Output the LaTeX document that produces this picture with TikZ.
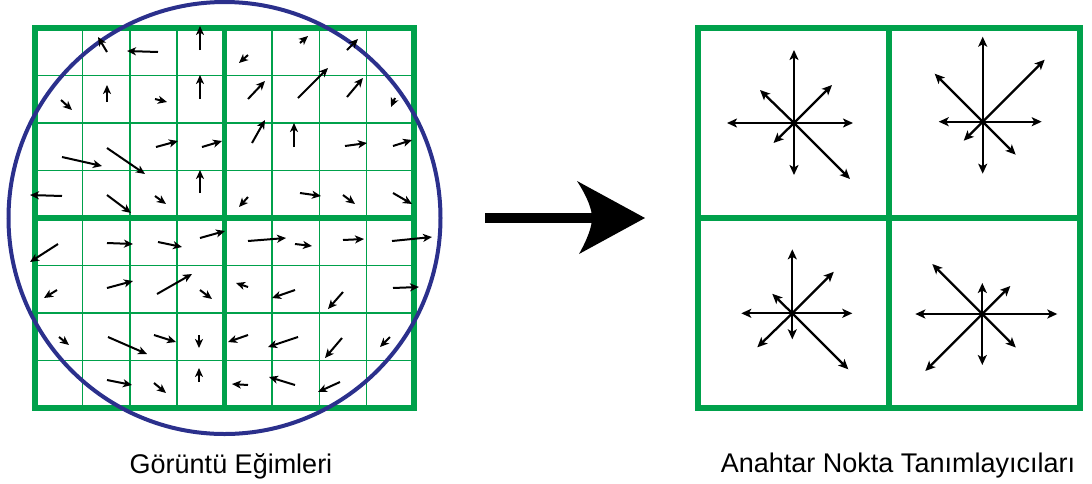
\documentclass[tikz,border=0pt]{standalone}
\usepackage{fontspec}
\setmainfont{Liberation Sans}
\usetikzlibrary{arrows.meta}
\definecolor{gridgreen}{RGB}{0,161,75}
\definecolor{circblue}{RGB}{43,48,140}
\begin{document}
\begin{tikzpicture}[x=1pt,y=-1pt,
  thickgrid/.style={draw=gridgreen,line width=5.5pt},
  thingrid/.style={draw=gridgreen,line width=1.5pt},
  grad/.style={line width=2pt,-{Stealth[length=9pt,width=8pt,inset=2.5pt]}},
  desc/.style={line width=2.3pt,-{Stealth[length=10pt,width=9pt,inset=2.5pt]}},
  lbl/.style={font=\fontsize{27}{32}\selectfont,anchor=base,inner sep=0pt}]
\useasboundingbox (0,0) rectangle (1092,483);
% ---------- left grid ----------
\foreach \k in {1,2,3,5,6,7}{
  \draw[thingrid] ({35+\k*47.375},28) -- ({35+\k*47.375},408);
  \draw[thingrid] (35,{28+\k*47.5}) -- (414,{28+\k*47.5});
}
\draw[thickgrid] (35,28) rectangle (414,408);
\draw[thickgrid] (224.5,28) -- (224.5,408);
\draw[thickgrid] (35,218) -- (414,218);
\draw[circblue,line width=4pt] (224.5,218) circle[radius=216pt];
% gradient arrows
\foreach \sx/\sy/\ex/\ey in {
 107/52/98/37, 158/52/127/51, 200/50/200/26, 61/100/72/110, 107/102/107/85,
 155/99/167/102, 200/99/200/75, 62/157/102/166, 107/148/145/174, 156/147/178/141,
 202/147/222/141, 200/193/200/170, 62/196/30/195, 107/195/131/213, 155/196/166/204,
 248/55/239/63, 300/43/308/36, 347/50/358/39, 248/99/265/81, 298/98/328/68,
 347/97/363/78, 395/98/391/107, 252/143/265/120, 294/147/294/123, 345/146/367/143,
 393/146/412/140, 248/197/239/207, 300/193/321/196, 343/195/355/204, 393/193/412/204,
 58/244/30/262, 107/243/133/244, 158/242/182/247, 200/238/225/231, 57/290/44/298,
 107/288/133/281, 157/294/192/274, 200/290/212/299, 59/337/69/345, 108/337/147/354,
 154/335/176/342, 199/335/199/348, 107/380/132/385, 154/383/166/393, 199/382/199/368,
 248/241/286/238, 295/244/312/246, 343/240/364/239, 392/241/432/237, 248/287/236/283,
 295/290/272/298, 343/292/328/309, 393/288/419/287, 248/335/228/342, 298/337/268/347,
 342/338/325/358, 390/337/380/347, 248/385/232/384, 295/385/269/377, 340/382/318/392}
 { \draw[grad] (\sx,\sy) -- (\ex,\ey); }
% ---------- big arrow ----------
\fill (485,213) rectangle (596,223);
\fill (645,218) -- (577,181) .. controls (588,198) and (592,210) .. (592,218)
      .. controls (592,226) and (588,238) .. (579,254) -- cycle;
% ---------- right grid ----------
\draw[thickgrid] (698,28) rectangle (1080,408);
\draw[thickgrid] (889,28) -- (889,408);
\draw[thickgrid] (698,218) -- (1080,218);
\coordinate (s1) at (794,123);
\coordinate (s2) at (982.7,121.7);
\coordinate (s3) at (792.3,313.3);
\coordinate (s4) at (982.3,314);
\foreach \dx/\dy in {0/-73, 0/52, -67/0, 59/0, 38/-38, -34/-33, -20.5/20, 56/56}
  { \draw[desc] (s1) -- ++(\dx,\dy); }
\foreach \dx/\dy in {0/-85, 0/52, -44/0, 59/0, 62/-62, -48/-48, -19/19, 33/33}
  { \draw[desc] (s2) -- ++(\dx,\dy); }
\foreach \dx/\dy in {0/-64, 0/26, -51/0, 60/0, 41.5/-41.5, -20/-19.5, -35/34, 56/56}
  { \draw[desc] (s3) -- ++(\dx,\dy); }
\foreach \dx/\dy in {0/-31, 0/51, -67/0, 75/0, 28/-28, -50/-50, -57/57, 33.5/33.5}
  { \draw[desc] (s4) -- ++(\dx,\dy); }
% ---------- labels ----------
\node[lbl] (lab1) at (231,473) {Görüntü Eğimleri};
\node[lbl] (lab2) at (898,472) {Anahtar Nokta Tanımlayıcıları};
\end{tikzpicture}
\end{document}
